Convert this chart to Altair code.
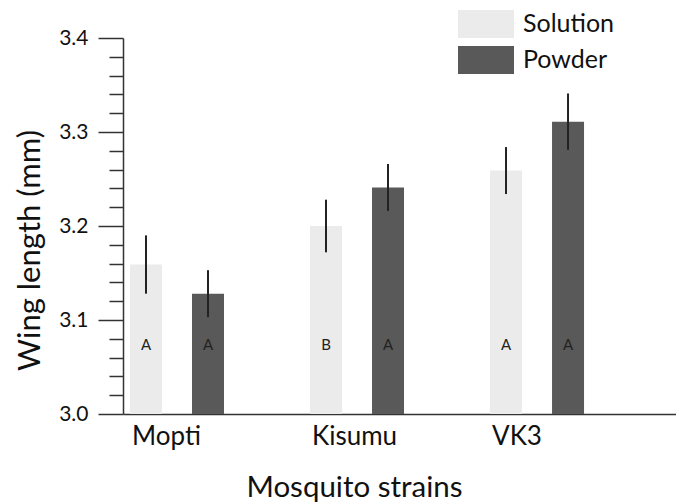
import altair as alt
import pandas as pd

strains = ["Mopti", "Kisumu", "VK3"]
treatments = ["Solution", "Powder"]
solution_mean = [3.159, 3.200, 3.259]
solution_err = [0.031, 0.028, 0.025]
powder_mean = [3.128, 3.241, 3.311]
powder_err = [0.025, 0.025, 0.030]
solution_letters = ["A", "B", "A"]
powder_letters = ["A", "A", "A"]
y_tick_values = [round(3.0 + 0.02 * i, 2) for i in range(21)]

rows = []
for i, s in enumerate(strains):
    rows.append({"strain": s, "treatment": "Solution", "mean": solution_mean[i],
                 "err": solution_err[i], "letter": solution_letters[i]})
    rows.append({"strain": s, "treatment": "Powder", "mean": powder_mean[i],
                 "err": powder_err[i], "letter": powder_letters[i]})
df = pd.DataFrame(rows)

FONT = "Lato"
major_test = "round(datum.value*100) % 10 == 0"

yaxis = alt.Axis(
    values=y_tick_values,
    tickCount=40,
    labelExpr=f"{major_test} ? format(datum.value, '.1f') : ''",
    labelOverlap=False,
    tickSize={"condition": {"test": major_test, "value": 25}, "value": 14},
    tickColor="#333", tickWidth=1.5,
    domainColor="#333", domainWidth=1.5,
    labelFont=FONT, labelFontSize=21, labelColor="#111", labelPadding=10,
    title="Wing length (mm)", titleFont=FONT, titleFontSize=31,
    titleFontWeight="normal", titleColor="#111",
    titleX=-93, titleY=212, titleBaseline="middle",
    grid=False,
)
yscale = alt.Scale(domain=[3.0, 3.4], zero=False, nice=False)

base = alt.Chart(df).encode(
    x=alt.X(
        "strain:N", sort=strains,
        scale=alt.Scale(paddingInner=0.4, paddingOuter=0.236, align=0),
        axis=alt.Axis(
            title="Mosquito strains", labelAngle=0, ticks=False,
            domainColor="#333", domainWidth=1.5,
            labelFont=FONT, labelFontSize=26, labelColor="#111",
            labelAlign="left", labelOffset=-45, labelPadding=9,
            titleFont=FONT, titleFontSize=29.5, titleFontWeight="normal", titleColor="#111",
            titleX=231, titleY=73, titleBaseline="middle",
        ),
    ),
    xOffset=alt.XOffset(
        "treatment:N", sort=treatments,
        scale=alt.Scale(paddingInner=0.484, paddingOuter=0.113),
    ),
)

bars = base.mark_bar(clip=True).encode(
    y=alt.Y("mean:Q", scale=yscale, axis=yaxis),
    color=alt.Color(
        "treatment:N", sort=treatments,
        scale=alt.Scale(domain=treatments, range=["#ebebeb", "#595959"]),
        legend=alt.Legend(
            title=None, orient="none", legendX=335, legendY=-28,
            symbolType="M-1,-0.5H1V0.5H-1Z", symbolSize=3136,
            symbolOpacity=1, symbolStrokeWidth=0,
            clipHeight=28,
            labelFont=FONT, labelFontSize=25, labelColor="#111",
            labelOffset=9, rowPadding=8, padding=0,
        ),
    ),
)

errs = base.transform_calculate(
    lo="datum.mean - datum.err", hi="datum.mean + datum.err"
).mark_rule(color="#222", strokeWidth=2).encode(
    y=alt.Y("lo:Q", scale=yscale, axis=yaxis),
    y2="hi:Q",
)

letters = base.mark_text(font=FONT, fontSize=15, color="#222", baseline="middle").encode(
    y=alt.datum(3.073),
    text="letter:N",
)

chart = alt.layer(bars, errs, letters).properties(
    width=553, height=376,
    autosize=alt.AutoSizeParams(type="none"),
    padding={"left": 115, "top": 30, "right": 0, "bottom": 88},
).configure_view(stroke=None)

chart.save("out.html", embed_options={"renderer": "svg", "actions": False})
